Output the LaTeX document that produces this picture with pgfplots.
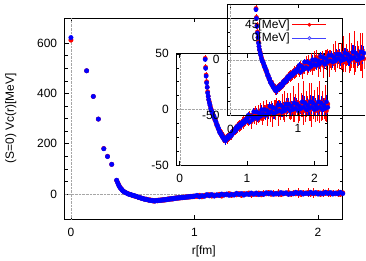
\documentclass[border=0pt]{standalone}
\usepackage{fontspec}
\setmainfont{Liberation Sans}
\usepackage{pgfplots}
\usepackage{pgfplotstable}
\pgfplotsset{compat=1.18}

\pgfplotstableread{
r v45 e45 v0 e0
0.000 612 5 622 4
0.127 490 3 490 3
0.181 388 3 388 3
0.222 298 3 298 3
0.266 181 3 180 3
0.296 150 3 149 3
0.330 118 3 118 3
0.370 54 3 55 2
0.378 46 3 45 2
0.385 38 3 37 2
0.392 31 3 30 2
0.400 25 3 24 2
0.408 20 3 20 2
0.415 16 3 15 2
0.423 12 3 12 2
0.430 9 3 9 2
0.440 7 3 6 3
0.450 4 3 4 3
0.460 2 3 1 3
0.470 0 3 -1 3
0.480 -2 3 -2 3
0.490 -4 3 -3 3
0.500 -5 3 -6 3
0.510 -7 3 -6 3
0.520 -9 3 -8 3
0.530 -9 3 -10 3
0.540 -12 3 -11 3
0.550 -13 3 -14 3
0.560 -15 3 -14 3
0.570 -16 3 -17 3
0.580 -18 3 -17 3
0.590 -19 3 -20 3
0.600 -21 3 -20 3
0.610 -20 3 -22 3
0.620 -23 3 -22 3
0.630 -24 3 -24 3
0.640 -23 3 -25 3
0.650 -26 4 -25 3
0.660 -25 3 -27 3
0.670 -28 4 -26 4
0.680 -27 3 -28 4
0.690 -25 3 -26 3
0.700 -27 4 -25 3
0.710 -24 3 -26 3
0.720 -26 3 -24 3
0.730 -23 3 -25 3
0.740 -25 3 -23 3
0.750 -22 3 -24 3
0.760 -24 3 -22 3
0.770 -21 3 -23 3
0.780 -22 3 -20 3
0.790 -19 3 -21 3
0.800 -21 3 -19 3
0.810 -18 3 -20 3
0.820 -20 3 -18 3
0.830 -17 3 -19 3
0.840 -18 4 -16 3
0.850 -15 4 -17 3
0.860 -17 4 -15 3
0.870 -14 4 -16 3
0.880 -16 4 -14 3
0.890 -13 4 -15 3
0.900 -15 4 -13 3
0.910 -12 4 -14 3
0.920 -14 4 -12 3
0.930 -11 4 -13 3
0.940 -13 4 -11 3
0.950 -10 4 -12 3
0.960 -12 4 -10 3
0.970 -9 4 -11 3
0.980 -11 4 -9 3
0.990 -8 4 -10 3
1.000 -10 4 -8 3
1.02 -10 5 -5 3
1.04 -5 4 -11 3
1.06 -11 6 -6 3
1.08 -5 5 -9 3
1.10 -6 7 -2 3
1.12 -2 5 -7 3
1.14 -8 6 -2 3
1.16 -4 8 -8 3
1.18 -6 5 -3 3
1.20 -1 7 -6 3
1.22 -8 6 0 4
1.24 -1 9 -4 4
1.26 -3 5 0 4
1.28 2 7 -5 4
1.30 -5 10 -1 4
1.32 -1 6 -4 4
1.34 -3 8 3 4
1.36 2 6 -2 4
1.38 -5 11 2 4
1.40 2 7 -4 4
1.42 0 9 1 4
1.44 4 6 -2 4
1.46 -3 12 4 4
1.48 1 8 -1 4
1.50 -2 7 4 4
1.52 4 10 -2 5
1.54 -3 6 2 5
1.56 3 14 -1 5
1.58 1 8 5 5
1.60 6 9 1 5
1.62 -1 7 5 5
1.64 3 12 -1 5
1.66 0 8 3 5
1.68 5 16 0 5
1.70 -2 9 6 5
1.72 4 10 1 5
1.74 2 7 5 5
1.76 6 18 -1 5
1.78 -1 9 3 5
1.80 4 11 1 5
1.82 1 8 7 6
1.84 6 20 2 6
1.86 -1 10 6 6
1.88 5 12 0 6
1.90 3 9 4 6
1.92 7 17 1 6
1.94 0 10 7 6
1.96 4 20 2 6
1.98 1 9 6 6
2.00 6 12 0 6
2.02 -1 10 4 6
2.04 5 15 1 6
2.06 3 9 7 6
2.08 7 19 2 6
2.10 0 10 6 6
2.12 4 13 0 6
2.14 1 9 4 6
2.16 6 16 1 6
2.18 -1 10 7 6
2.20 5 12 2 6
}\vdata

\pgfplotsset{
  myaxis/.style={
    scale only axis, anchor=south west, clip=true,
    axis line style={line width=0.8pt},
    tick style={black, line width=0.5pt},
    tick align=inside,
    font=\fontsize{12}{14}\selectfont,
    /pgf/number format/assume math mode=true,
    xticklabel style={yshift=-5pt},
    yticklabel style={xshift=-3.5pt},
    xmin=-0.05, xmax=2.2, xtick={0,1,2},
  },
  redpts/.style={only marks, mark=*, color=red, mark size=#1,
    mark options={fill=red, draw=red, line width=0.3pt},
    error bars/y dir=both, error bars/y explicit, error bars/error mark=none,
    error bars/error bar style={red, line width=0.5pt}},
  bluepts/.style={only marks, mark=*, color=blue, mark size=#1,
    mark options={fill=blue, draw=blue, line width=0.3pt},
    error bars/y dir=both, error bars/y explicit, error bars/error mark=none,
    error bars/error bar style={blue, line width=1.1pt}},
}

\begin{document}
\fontsize{12}{14}\selectfont
\begin{tikzpicture}
\path (0pt,0pt) rectangle (366pt,256pt);

% main axis
\begin{axis}[myaxis, at={(65pt,39pt)}, width=279pt, height=202pt,
  ymin=-100, ymax=700, ytick={0,200,400,600}, minor y tick num=3,
  xlabel={r[fm]}, ylabel={(S=0) Vc(r)[MeV]},
  every axis x label/.style={at={(axis description cs:0.5,-0.158)}, anchor=center},
  every axis y label/.style={at={(axis description cs:-0.194,0.5)}, anchor=center, rotate=90},
]
\draw[gray!70, densely dotted, line width=0.4pt] (axis cs:0,-100) -- (axis cs:0,700);
\draw[gray!70, densely dotted, line width=0.4pt] (axis cs:-0.05,0) -- (axis cs:2.2,0);
\addplot[redpts=2.3pt] table[x=r, y=v45, y error=e45] {\vdata};
\addplot[bluepts=2.3pt] table[x=r, y=v0, y error=e0] {\vdata};
\end{axis}

% middle inset
\begin{axis}[myaxis, at={(177pt,93pt)}, width=152pt, height=112pt,
  ymin=-50, ymax=50, ytick={-50,0,50}, minor y tick num=3,
]
\draw[gray!70, densely dotted, line width=0.4pt] (axis cs:0,-50) -- (axis cs:0,50);
\draw[gray!70, densely dotted, line width=0.4pt] (axis cs:-0.05,0) -- (axis cs:2.2,0);
\addplot[redpts=2.2pt] table[x=r, y=v45, y error=e45] {\vdata};
\addplot[bluepts=2.2pt] table[x=r, y=v0, y error=e0] {\vdata};
\end{axis}

% upper-right inset (with key), cut at the right edge of the picture
\begin{axis}[myaxis, at={(228pt,143pt)}, width=138pt, height=112pt,
  xmax=1.993, xtick={0,1},
  axis x line*=box, axis y line*=left,
  ymin=-50, ymax=50, ytick={-50,0,50}, minor y tick num=3,
  yticklabels={-50,0,{}},
  legend plot pos=right, legend cell align=right,
  legend style={draw=none, fill=none, at={(0.725,0.885)}, anchor=north east,
    inner sep=0pt, row sep=-2pt, font=\fontsize{12}{14}\selectfont,
    nodes={inner sep=2.5pt}},
]
\draw[gray!70, densely dotted, line width=0.4pt] (axis cs:0,-50) -- (axis cs:0,50);
\draw[gray!70, densely dotted, line width=0.4pt] (axis cs:-0.05,0) -- (axis cs:2.2,0);
\addplot[redpts=2.2pt,
  legend image code/.code={\draw[red, line width=0.6pt] (0pt,0pt) -- (34pt,0pt);
    \fill[red] (17pt,0pt) circle (1.7pt);}]
  table[x=r, y=v45, y error=e45] {\vdata};
\addlegendentry{45[MeV]}
\addplot[bluepts=2.2pt,
  legend image code/.code={\draw[blue!75, line width=0.6pt] (0pt,0pt) -- (34pt,0pt);
    \draw[blue!75, line width=0.6pt, fill=blue!35] (17pt,0pt) circle (1.7pt);}]
  table[x=r, y=v0, y error=e0] {\vdata};
\addlegendentry{0[MeV]}
\end{axis}
\end{tikzpicture}
\end{document}
